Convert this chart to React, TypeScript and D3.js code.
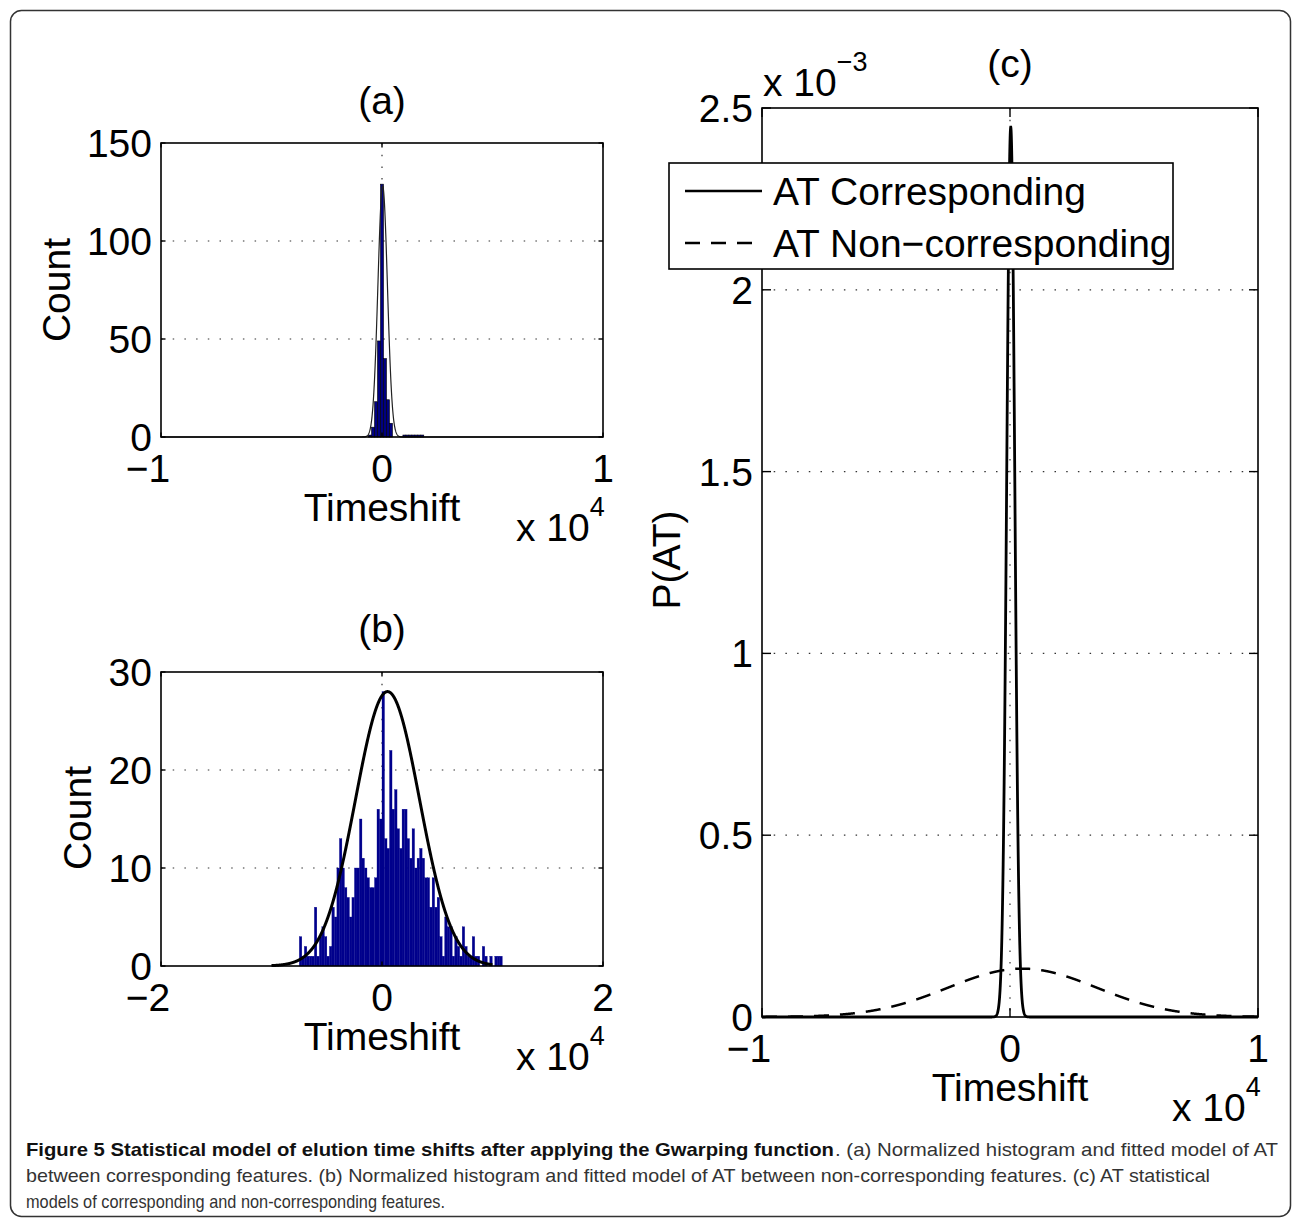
import React from "react";
import * as d3 from "d3";

// ---------- data ----------
// panel (a): histogram of AT between corresponding features (x in time units)
const aTicksX = [-1, 0, 1]; // x 10^4
const aTicksY = [0, 50, 100, 150];
const aBinCenters = [-540, -405, -270, -135, 0, 135, 270, 405, 1013, 1148, 1283, 1418, 1553, 1688, 1823];
const aBinWidth = [135];
const aCounts = [1, 5, 18, 49, 129, 40, 19, 7, 1, 1, 1, 1, 1, 1, 1];
const aFit = [30, 215, 128]; // mean, sigma, peak count

// panel (b): histogram of AT between non-corresponding features
const bTicksX = [-2, 0, 2]; // x 10^4
const bTicksY = [0, 10, 20, 30];
const bBinStart = [-7484];
const bBinWidth = [226.8];
const bCounts = [
  3, 1, 2, 1, 1, 1, 6, 1, 3, 4,
  3, 1, 2, 6, 5, 10, 13, 10, 8, 7,
  5, 7, 10, 10, 15, 11, 10, 9, 8, 8,
  9, 16, 15, 28, 13, 12, 22, 16, 18, 14,
  12, 16, 16, 13, 11, 14, 10, 11, 12, 11,
  9, 9, 6, 9, 6, 7, 3, 1, 5, 4,
  4, 1, 3, 2, 1, 4, 2, 1, 1, 3,
  1, 1, 0, 2, 1, 0, 1, 0, 1, 1, 1,
];
const bFit = [500, 2900, 28]; // mean, sigma, peak count

// panel (c): AT statistical models (pdf, y in units of 10^-3)
const cTicksX = [-1, 0, 1]; // x 10^4
const cTicksY = [0, 0.5, 1, 1.5, 2, 2.5];
const cCorresponding = [30, 163]; // mean, sigma
const cNonCorresponding = [500, 3000]; // mean, sigma
const legendLabels = ["AT Corresponding", "AT Non\u2212corresponding"];

const captionBold = "Figure 5 Statistical model of elution time shifts after applying the Gwarping function";
const captionLines = [
  ". (a) Normalized histogram and fitted model of AT",
  "between corresponding features. (b) Normalized histogram and fitted model of AT between non-corresponding features. (c) AT statistical",
  "models of corresponding and non-corresponding features.",
];

// ---------- styles ----------
const FONT = "Liberation Sans, Arimo, Helvetica, Arial, sans-serif";
const FS = 39;
const SUP = 27;
const CAPFONT = "Liberation Sans Narrow, Liberation Sans, sans-serif";

const fmt = (v: number) => (v < 0 ? "\u2212" + String(-v) : String(v));

const gauss = (x: number, m: number, s: number, a: number) => a * Math.exp(-0.5 * ((x - m) / s) ** 2);

type Box = { l: number; r: number; t: number; b: number };

function Axes({
  box,
  xs,
  ys,
  xTicks,
  xScaleFactor,
  yTicks,
  tickLen,
  children,
  overlay,
}: {
  box: Box;
  xs: (v: number) => number;
  ys: (v: number) => number;
  xTicks: number[];
  xScaleFactor: number;
  yTicks: number[];
  tickLen: number;
  children?: React.ReactNode;
  overlay?: React.ReactNode;
}) {
  const dot = "1.5,10.2";
  return (
    <g>
      {yTicks
        .filter((v) => ys(v) > box.t + 1 && ys(v) < box.b - 1)
        .map((v) => (
          <line key={"gy" + v} x1={box.l} x2={box.r} y1={ys(v)} y2={ys(v)} stroke="#333" strokeWidth={1.2} strokeDasharray={dot} />
        ))}
      {xTicks
        .filter((v) => xs(v * xScaleFactor) > box.l + 1 && xs(v * xScaleFactor) < box.r - 1)
        .map((v) => (
          <line key={"gx" + v} y1={box.t} y2={box.b} x1={xs(v * xScaleFactor)} x2={xs(v * xScaleFactor)} stroke="#333" strokeWidth={1.2} strokeDasharray={dot} />
        ))}
      {children}
      <rect x={box.l} y={box.t} width={box.r - box.l} height={box.b - box.t} fill="none" stroke="#000" strokeWidth={1.6} />
      {xTicks.map((v) => {
        const px = xs(v * xScaleFactor);
        return (
          <g key={"tx" + v}>
            <line x1={px} x2={px} y1={box.b} y2={box.b - tickLen} stroke="#000" strokeWidth={1.4} />
            <line x1={px} x2={px} y1={box.t} y2={box.t + tickLen} stroke="#000" strokeWidth={1.4} />
            <text x={px + (v < 0 ? -13 : 0)} y={box.b + 45} textAnchor="middle" fontFamily={FONT} fontSize={FS}>
              {fmt(v)}
            </text>
          </g>
        );
      })}
      {yTicks.map((v) => (
        <g key={"ty" + v}>
          <line x1={box.l} x2={box.l + tickLen} y1={ys(v)} y2={ys(v)} stroke="#000" strokeWidth={1.4} />
          <line x1={box.r} x2={box.r - tickLen} y1={ys(v)} y2={ys(v)} stroke="#000" strokeWidth={1.4} />
          <text x={box.l - 9} y={ys(v) + 14} textAnchor="end" fontFamily={FONT} fontSize={FS}>
            {fmt(v)}
          </text>
        </g>
      ))}
      {overlay}
    </g>
  );
}

function Exponent({ x, y, base, exp }: { x: number; y: number; base: string; exp: string }) {
  return (
    <text x={x} y={y} fontFamily={FONT} fontSize={FS}>
      {base}
      <tspan fontSize={SUP} dy={-25}>
        {exp}
      </tspan>
    </text>
  );
}

export default function App() {
  const E4 = 1e4;
  const xsamp = d3.range(-10000, 10001, 10);

  // ----- panel (a) -----
  const aBox: Box = { l: 161, r: 603, t: 143, b: 437 };
  const axs = d3.scaleLinear().domain([aTicksX[0] * E4, aTicksX[2] * E4]).range([aBox.l, aBox.r]);
  const ays = d3.scaleLinear().domain([0, 150]).range([aBox.b, aBox.t]);
  const aLine = d3
    .line<number>()
    .x((d) => axs(d))
    .y((d) => ays(gauss(d, aFit[0], aFit[1], aFit[2])))(xsamp);

  // ----- panel (b) -----
  const bBox: Box = { l: 161, r: 603, t: 672, b: 966 };
  const bxs = d3.scaleLinear().domain([bTicksX[0] * E4, bTicksX[2] * E4]).range([bBox.l, bBox.r]);
  const bys = d3.scaleLinear().domain([0, 30]).range([bBox.b, bBox.t]);
  const bLine = d3
    .line<number>()
    .x((d) => bxs(d))
    .y((d) => bys(gauss(d, bFit[0], bFit[1], bFit[2])))(xsamp);

  // ----- panel (c) -----
  const cBox: Box = { l: 762, r: 1258, t: 108, b: 1017 };
  const cxs = d3.scaleLinear().domain([cTicksX[0] * E4, cTicksX[2] * E4]).range([cBox.l, cBox.r]);
  const cys = d3.scaleLinear().domain([0, 2.5]).range([cBox.b, cBox.t]);
  const pdf = (x: number, p: number[]) => gauss(x, p[0], p[1], 1e3 / (p[1] * Math.sqrt(2 * Math.PI)));
  const cSamp = d3.range(-10000, 10001, 4);
  const cLine1 = d3
    .line<number>()
    .x((d) => cxs(d))
    .y((d) => cys(pdf(d, cCorresponding)))(cSamp);
  const cLine2 = d3
    .line<number>()
    .x((d) => cxs(d))
    .y((d) => cys(pdf(d, cNonCorresponding)))(cSamp);

  return (
    <svg width={1293} height={1219} viewBox="0 0 1293 1219" style={{ position: "absolute", left: 0, top: 0, background: "#fff" }}>
      <rect x={0} y={0} width={1293} height={1219} fill="#fff" />
      <rect x={10.5} y={10.5} width={1280} height={1206} rx={11} ry={11} fill="none" stroke="#333" strokeWidth={1.5} />

      {/* ---------- (a) ---------- */}
      <text x={382} y={114} textAnchor="middle" fontFamily={FONT} fontSize={FS}>(a)</text>
      <Axes box={aBox} xs={axs} ys={ays} xTicks={aTicksX} xScaleFactor={E4} yTicks={aTicksY} tickLen={4.5}>
        {aCounts.map((c, i) =>
          c > 0 ? (
            <rect
              key={i}
              x={axs(aBinCenters[i] - aBinWidth[0] / 2)}
              width={axs(aBinCenters[i] + aBinWidth[0] / 2) - axs(aBinCenters[i] - aBinWidth[0] / 2)}
              y={ays(c)}
              height={ays(0) - ays(c)}
              fill="#000080"
              stroke="#000"
              strokeWidth={0.6}
            />
          ) : null
        )}
        <path d={aLine || ""} fill="none" stroke="#222" strokeWidth={1.2} />
      </Axes>
      <text x={70} y={290} transform="rotate(-90 70 290)" textAnchor="middle" fontFamily={FONT} fontSize={FS}>Count</text>
      <text x={382} y={521} textAnchor="middle" fontFamily={FONT} fontSize={FS}>Timeshift</text>
      <Exponent x={516} y={541} base="x 10" exp="4" />

      {/* ---------- (b) ---------- */}
      <text x={382} y={642} textAnchor="middle" fontFamily={FONT} fontSize={FS}>(b)</text>
      <Axes box={bBox} xs={bxs} ys={bys} xTicks={bTicksX} xScaleFactor={E4} yTicks={bTicksY} tickLen={4.5}>
        {bCounts.map((c, i) => {
          const x0 = bBinStart[0] + i * bBinWidth[0];
          return c > 0 ? (
            <rect
              key={i}
              x={bxs(x0)}
              width={bxs(x0 + bBinWidth[0]) - bxs(x0)}
              y={bys(c)}
              height={bys(0) - bys(c)}
              fill="#00008c"
              stroke="#00008c"
              strokeWidth={0.3}
            />
          ) : null;
        })}
        <path d={bLine || ""} fill="none" stroke="#000" strokeWidth={3} />
      </Axes>
      <text x={91} y={818} transform="rotate(-90 91 818)" textAnchor="middle" fontFamily={FONT} fontSize={FS}>Count</text>
      <text x={382} y={1050} textAnchor="middle" fontFamily={FONT} fontSize={FS}>Timeshift</text>
      <Exponent x={516} y={1070} base="x 10" exp="4" />

      {/* ---------- (c) ---------- */}
      <text x={1010} y={77} textAnchor="middle" fontFamily={FONT} fontSize={FS}>(c)</text>
      <Axes
        box={cBox}
        xs={cxs}
        ys={cys}
        xTicks={cTicksX}
        xScaleFactor={E4}
        yTicks={cTicksY}
        tickLen={9}
        overlay={
          <g>
            <rect x={669} y={163} width={504} height={106} fill="#fff" stroke="#000" strokeWidth={1.6} />
            <line x1={685} x2={762} y1={191} y2={191} stroke="#000" strokeWidth={2.5} />
            <text x={773} y={205} fontFamily={FONT} fontSize={FS}>{legendLabels[0]}</text>
            <line x1={685} x2={762} y1={243} y2={243} stroke="#000" strokeWidth={2.5} strokeDasharray="15,11" />
            <text x={773} y={257} fontFamily={FONT} fontSize={FS}>{legendLabels[1]}</text>
          </g>
        }
      >
        <path d={cLine2 || ""} fill="none" stroke="#000" strokeWidth={2.5} strokeDasharray="15,11" />
        <path d={cLine1 || ""} fill="none" stroke="#000" strokeWidth={2.8} />
      </Axes>
      <Exponent x={763} y={96} base="x 10" exp={"\u22123"} />
      <text x={680} y={560} transform="rotate(-90 680 560)" textAnchor="middle" fontFamily={FONT} fontSize={FS}>P(AT)</text>
      <text x={1010} y={1101} textAnchor="middle" fontFamily={FONT} fontSize={FS}>Timeshift</text>
      <Exponent x={1172} y={1121} base="x 10" exp="4" />

      {/* ---------- caption ---------- */}
      <text x={26} y={1156} fontFamily={CAPFONT} fontSize={19} fontWeight="bold" fill="#111" textLength={808} lengthAdjust="spacingAndGlyphs">
        {captionBold}
      </text>
      <text x={835} y={1156} fontFamily={CAPFONT} fontSize={19} fill="#333" textLength={443} lengthAdjust="spacingAndGlyphs">
        {captionLines[0]}
      </text>
      <text x={26} y={1182} fontFamily={CAPFONT} fontSize={19} fill="#333" textLength={1184} lengthAdjust="spacingAndGlyphs">
        {captionLines[1]}
      </text>
      <text x={26} y={1208} fontFamily={CAPFONT} fontSize={19} fill="#333" textLength={419} lengthAdjust="spacingAndGlyphs">
        {captionLines[2]}
      </text>
    </svg>
  );
}
